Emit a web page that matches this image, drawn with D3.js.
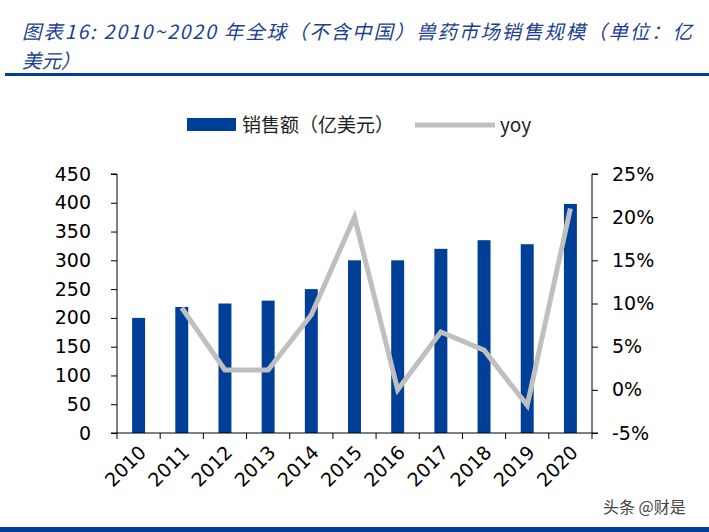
<!DOCTYPE html>
<html><head><meta charset="utf-8">
<script src="https://cdn.jsdelivr.net/npm/d3@7/dist/d3.min.js"></script>
<style>body{margin:0;background:#fff}svg{display:block}</style>
</head><body><svg id="c" width="709" height="532"></svg>
<script>
const years = ["2010","2011","2012","2013","2014","2015","2016","2017","2018","2019","2020"];
const sales = [200,219,225,230,250,300,300,320,335,328,398];
const yoy = [null,9.5,2.3,2.3,8.7,20.0,0.0,6.7,4.6,-1.8,21.0];
const leftTicks = [0,50,100,150,200,250,300,350,400,450];
const rightTicks = [-5,0,5,10,15,20,25];

const svg = d3.select("#c");
const blue = "#003f98", gray = "#bfbfbf";
const m = {l:117, r:592, t:174, b:433};
const x = d3.scaleBand().domain(years).range([m.l, m.r]).paddingInner(0.7).paddingOuter(0.35);
const xb = d3.scaleBand().domain(years).range([m.l, m.r]);
const yL = d3.scaleLinear().domain([0,450]).range([m.b, m.t]);
const yR = d3.scaleLinear().domain([-5,25]).range([m.b, m.t]);
const font = "'DejaVu Sans', Verdana, sans-serif";

// title
const title = svg.append("g").attr("fill","#1b3f91").style("font-family","'Noto Sans CJK SC', sans-serif").style("font-style","italic").style("font-size","19.5px");
title.append("text").attr("x",22).attr("y",39).attr("textLength",670).attr("lengthAdjust","spacing")
  .text("图表16:  2010~2020 年全球（不含中国）兽药市场销售规模（单位：亿");
title.append("text").attr("x",22).attr("y",68).text("美元）");
svg.append("rect").attr("x",5).attr("y",73).attr("width",704).attr("height",3).attr("fill",blue);
svg.append("rect").attr("x",0).attr("y",527).attr("width",709).attr("height",5).attr("fill",blue);

// bars
svg.append("g").selectAll("rect").data(years).join("rect")
  .attr("x", d => x(d)).attr("width", x.bandwidth())
  .attr("y", (d,i) => yL(sales[i])).attr("height", (d,i) => m.b - yL(sales[i]))
  .attr("fill", blue);

// line
const pts = years.map((d,i)=>({d, v:yoy[i]})).filter(p=>p.v!==null);
svg.append("path").datum(pts)
  .attr("d", d3.line().x(p=>xb(p.d)+xb.bandwidth()/2).y(p=>yR(p.v)))
  .attr("fill","none").attr("stroke",gray).attr("stroke-width",5).attr("stroke-linejoin","miter");

// axes
const gL = svg.append("g").attr("transform",`translate(${m.l},0)`)
  .call(d3.axisLeft(yL).tickValues(leftTicks).tickSize(6).tickPadding(20));
const gR = svg.append("g").attr("transform",`translate(${m.r},0)`)
  .call(d3.axisRight(yR).tickValues(rightTicks).tickSize(6).tickPadding(14).tickFormat(d=>d+"%"));
const gX = svg.append("g").attr("transform",`translate(0,${m.b})`)
  .call(d3.axisBottom(xb).tickSize(6).tickFormat(""));
gX.selectAll(".tick").remove();
const bounds = years.map(d=>xb(d)).concat([m.r]);
gX.selectAll("line.b").data(bounds).join("line").attr("class","b")
  .attr("x1",d=>d).attr("x2",d=>d).attr("y1",0).attr("y2",6).attr("stroke","#000");
[gL,gR,gX].forEach(g=>{
  g.select(".domain").attr("stroke","#000");
  g.selectAll("text").style("font-family",font).style("font-size","19px").attr("fill","#000");
  g.selectAll("line").attr("stroke","#000");
});
gL.select(".domain").attr("d",`M-6,${m.t}H0V${m.b}H-6`);
gR.select(".domain").attr("d",`M6,${m.t}H0V${m.b}H6`);
gX.select(".domain").attr("d",`M${m.l},0H${m.r}`);

// x labels
svg.append("g").selectAll("text").data(years).join("text")
  .attr("transform", d=>`translate(${xb(d)+xb.bandwidth()/2+4},${m.b+16}) rotate(-45)`)
  .attr("text-anchor","end").attr("dy","0.35em")
  .style("font-family",font).style("font-size","19px").attr("fill","#000").text(d=>d);

// legend
const lg = svg.append("g").style("font-family","'Noto Sans CJK SC', sans-serif").style("font-size","19px");
lg.append("rect").attr("x",187).attr("y",118).attr("width",49).attr("height",13).attr("fill",blue);
lg.append("text").attr("x",242).attr("y",125).attr("dy","0.35em").attr("fill","#222").text("销售额（亿美元）");
lg.append("line").attr("x1",415).attr("x2",495).attr("y1",125).attr("y2",125).attr("stroke",gray).attr("stroke-width",5);
lg.append("text").attr("x",500).attr("y",125).attr("dy","0.35em").attr("fill","#222").text("yoy");

// watermark
svg.append("text").attr("x",603).attr("y",513).style("font-family","'Noto Sans CJK SC', sans-serif").style("font-size","16px").attr("fill","#444").text("头条 @财是");
</script></body></html>
